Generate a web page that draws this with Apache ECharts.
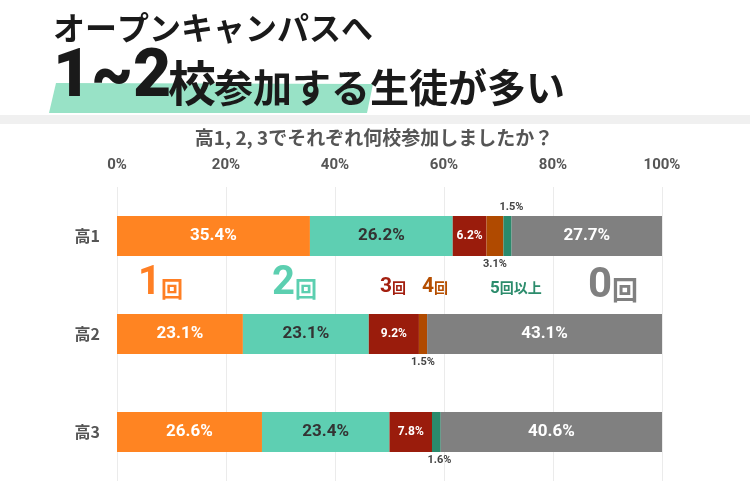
<!DOCTYPE html>
<html>
<head>
<meta charset="utf-8">
<script src="https://cdn.jsdelivr.net/npm/echarts@6/dist/echarts.min.js"></script>
<style>
html, body { margin: 0; padding: 0; background: #fff; }
#chart { width: 750px; height: 500px; }
</style>
</head>
<body>
<div id="chart"></div>
<script>
// 学年ごとの参加校数（%）
var grades = ['高1', '高2', '高3']
var seriesNames = ['1回', '2回', '3回', '4回', '5回以上', '0回']
var once = [35.4, 23.1, 26.6]
var twice = [26.2, 23.1, 23.4]
var three = [6.2, 9.2, 7.8]
var four = [3.1, 1.5, 0]
var fivePlus = [1.5, 0, 1.6]
var zero = [27.7, 43.1, 40.6]
var xTicks = [0, 20, 40, 60, 80, 100]

var colors = ['#FF8422', '#5ECFB2', '#9A1C0C', '#B04A00', '#2A8A6C', '#808080']
var jp = '"Noto Sans CJK JP", sans-serif'
var num = 'Roboto, "Noto Sans CJK JP", sans-serif'

function pct (v) {
  return v.toFixed(1) + '%'
}

// 大きいラベル（バーの中）
function insideLabel (color, size) {
  return {
    show: true,
    position: 'inside',
    color: color,
    fontSize: size,
    fontWeight: 'bold',
    fontFamily: num,
    formatter: function (p) { return p.value ? pct(p.value) : '' }
  }
}

// 小さいラベル（バーの外）
function outsideItems (values, positions, offsets) {
  return values.map(function (v, i) {
    return {
      value: v,
      label: {
        show: v > 0,
        position: positions[i],
        distance: 3,
        offset: offsets[i],
        color: '#444',
        fontSize: 11,
        fontWeight: 'bold',
        fontFamily: num,
        formatter: function (p) { return p.value ? pct(p.value) : '' }
      }
    }
  })
}

var seriesData = [
  { data: once, label: insideLabel('#fff', 17) },
  { data: twice, label: insideLabel('#333', 17) },
  { data: three, label: insideLabel('#fff', 12) },
  { data: outsideItems(four, ['bottom', 'bottom', 'bottom'], [[0, 0], [0, 0], [0, 0]]) },
  { data: outsideItems(fivePlus, ['top', 'top', 'bottom'], [[4, 0], [0, 0], [3, 0]]) },
  { data: zero, label: insideLabel('#fff', 17) }
]

var series = seriesData.map(function (s, i) {
  var o = {
    name: seriesNames[i],
    type: 'bar',
    stack: 'total',
    barWidth: 40,
    itemStyle: { color: colors[i] },
    data: s.data
  }
  if (s.label) o.label = s.label
  return o
})

function tag (x, y, digit, word, dSize, wSize, color) {
  return {
    type: 'text',
    x: x,
    y: y,
    style: {
      text: '{d|' + digit + '}{w|' + word + '}',
      textVerticalAlign: 'bottom',
      rich: {
        d: { fontSize: dSize, fontWeight: 'bold', fontFamily: num, fill: color, color: color, verticalAlign: 'bottom' },
        w: { fontSize: wSize, fontWeight: 'bold', fontFamily: jp, fill: color, color: color, verticalAlign: 'bottom', padding: [0, 0, dSize * 0.12, 0] }
      }
    }
  }
}

var chart = echarts.init(document.getElementById('chart'), null, { renderer: 'canvas' })

var option = {
  animation: false,
  backgroundColor: '#fff',
  grid: { left: 117, right: 88, top: 187, bottom: 19, containLabel: false },
  xAxis: {
    type: 'value',
    position: 'top',
    min: xTicks[0],
    max: xTicks[xTicks.length - 1],
    interval: xTicks[1] - xTicks[0],
    axisLine: { show: false },
    axisTick: { show: false },
    axisLabel: { margin: 14, color: '#555', fontSize: 15, fontWeight: 'bold', fontFamily: num, formatter: '{value}%' },
    splitLine: { lineStyle: { color: '#ebebeb', width: 1 } }
  },
  yAxis: {
    type: 'category',
    data: grades,
    inverse: true,
    axisLine: { show: false },
    axisTick: { show: false },
    axisLabel: { margin: 17, color: '#555', fontSize: 16, fontWeight: 'bold', fontFamily: jp }
  },
  series: series,
  graphic: [
    { type: 'polygon', shape: { points: [[56, 83], [373, 84], [367, 113], [49, 113]] }, style: { fill: '#98E2C6' }, z: 0 },
    { type: 'rect', shape: { x: 0, y: 115, width: 750, height: 9 }, style: { fill: '#f0f0f0' } },
    {
      type: 'text', x: 53, y: 28,
      style: { text: 'オープンキャンパスへ', fontSize: 32, fontWeight: 'bold', fontFamily: jp, fill: '#1a1a1a', textVerticalAlign: 'middle' }
    },
    {
      type: 'text', x: 53, y: 79, z: 10,
      style: { text: '1~2', fontSize: 66, fontWeight: 900, fontFamily: num, fill: '#1a1a1a', textVerticalAlign: 'middle' }
    },
    {
      type: 'text', x: 168, y: 83, z: 10,
      style: { text: '校', fontSize: 48, fontWeight: 'bold', fontFamily: jp, fill: '#1a1a1a', textVerticalAlign: 'middle' }
    },
    {
      type: 'text', x: 214, y: 87, z: 10,
      style: { text: '参加する生徒が多い', fontSize: 39, fontWeight: 'bold', fontFamily: jp, fill: '#1a1a1a', textVerticalAlign: 'middle' }
    },
    {
      type: 'text', x: 374, y: 138,
      style: { text: '高1, 2, 3でそれぞれ何校参加しましたか？', fontSize: 19, fontWeight: 'bold', fontFamily: jp, fill: '#555', textAlign: 'center', textVerticalAlign: 'middle' }
    },
    tag(138, 304, '1', '回', 40, 22, '#FF7F24'),
    tag(272, 304, '2', '回', 40, 22, '#5CCFB0'),
    tag(380, 297, '3', '回', 21, 14, '#A31F0F'),
    tag(422, 297, '4', '回', 21, 14, '#B54E00'),
    tag(490, 297, '5', '回以上', 17, 14, '#2C8C6C'),
    tag(588, 308, '0', '回', 42, 26, '#808080')
  ]
}

chart.setOption(option)
</script>
</body>
</html>
